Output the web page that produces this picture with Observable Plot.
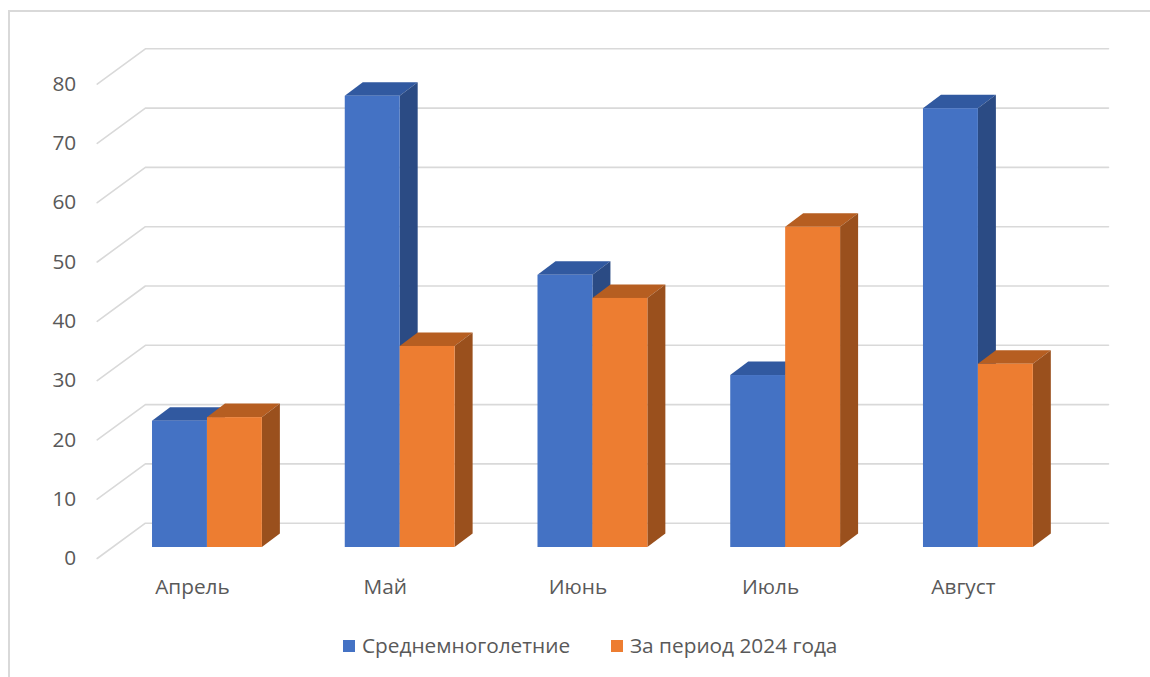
<!DOCTYPE html>
<html><head><meta charset="utf-8">
<script src="https://cdn.jsdelivr.net/npm/d3@7"></script>
<script src="https://cdn.jsdelivr.net/npm/@observablehq/plot@0.6"></script>
<style>
body{margin:0;width:1150px;height:677px;overflow:hidden;background:#fff;font-family:"Open Sans",sans-serif;position:relative}
#chart{position:absolute;left:0;top:0}
#frame{position:absolute;left:8px;top:10px;width:1200px;height:720px;border:2px solid #d9d9d9;box-sizing:border-box;pointer-events:none}
#legend{position:absolute;top:631px;left:0;width:1150px;height:28px;font-size:20.8px;color:#595959;line-height:28px}
#legend .item{position:absolute;top:0;white-space:nowrap}
#legend .sw{display:inline-block;width:12px;height:12px;margin-right:7px;vertical-align:middle;position:relative;top:-1px}
</style></head><body>
<div id="chart"></div>
<div id="legend"></div>
<div id="frame"></div>
<script>
const months = ["Апрель", "Май", "Июнь", "Июль", "Август"];
const seriesNames = ["Среднемноголетние", "За период 2024 года"];
const avgValues = [21.3, 76.1, 45.9, 29.0, 74.0];
const values2024 = [21.9, 33.9, 42.0, 54.0, 30.9];
const yTicks = [0, 10, 20, 30, 40, 50, 60, 70, 80];
const seriesColors = [
  {front: "#4472C4", top: "#3159A0", side: "#2B4B84"},
  {front: "#ED7D31", top: "#B65E21", side: "#9A501D"}
];

// 3D geometry (in data units)
const bw = 0.285;     // bar width
const ddx = 0.0934;   // bar depth, horizontal
const ddy = 2.28;     // bar depth, vertical
const xLeft = -0.572, xWall = -0.322, xRight = 4.675;
const yFront = -1.855, yWall = 4.1;

const seriesVals = [avgValues, values2024];

function buildFaces(j) {
  const vals = seriesVals[j];
  const fronts = [], tops = [], sides = [];
  vals.forEach((v, i) => {
    const x1 = i + (j === 0 ? -bw : 0), x2 = x1 + bw;
    fronts.push({x1, x2, y1: 0, y2: v});
    const id = months[i];
    tops.push({id, x: x1, y1: v, y2: v});
    tops.push({id, x: x1 + ddx, y1: v, y2: v + ddy});
    tops.push({id, x: x2, y1: v, y2: v + ddy});
    tops.push({id, x: x2 + ddx, y1: v + ddy, y2: v + ddy});
    sides.push({id, x: x2, y1: 0, y2: v});
    sides.push({id, x: x2 + ddx, y1: ddy, y2: v + ddy});
  });
  return {fronts, tops, sides};
}

const grid = [];
yTicks.forEach(t => {
  grid.push({t, x: xLeft, y: t + yFront});
  grid.push({t, x: xWall, y: t + yWall});
  grid.push({t, x: xRight, y: t + yWall});
});

const marks = [
  Plot.line(grid, {x: "x", y: "y", z: "t", stroke: "#d9d9d9", strokeWidth: 1.6})
];
[0, 1].forEach(j => {
  const f = buildFaces(j);
  const c = seriesColors[j];
  marks.push(Plot.areaY(f.tops, {x: "x", y1: "y1", y2: "y2", z: "id", fill: c.top, curve: "linear"}));
  marks.push(Plot.areaY(f.sides, {x: "x", y1: "y1", y2: "y2", z: "id", fill: c.side, curve: "linear"}));
  marks.push(Plot.rect(f.fronts, {x1: "x1", x2: "x2", y1: "y1", y2: "y2", fill: c.front}));
});
marks.push(Plot.text(yTicks, {x: () => xLeft, y: d => d + yFront, text: d => String(d), textAnchor: "end", dx: -21, dy: 0, fill: "#595959", fontSize: 20.8}));
marks.push(Plot.text(months, {x: (d, i) => i, y: () => 0, text: d => d, dx: -15, dy: 40, fill: "#595959", fontSize: 20.8}));

const chart = Plot.plot({
  width: 1150,
  height: 610,
  x: {type: "linear", domain: [xLeft, xRight], range: [96.7, 1108], axis: null},
  y: {type: "linear", domain: [-2, 85], range: [558.86, 42.95], axis: null},
  style: {fontFamily: "'Open Sans', sans-serif", background: "transparent", overflow: "visible"},
  marks
});
document.getElementById("chart").appendChild(chart);

const legend = document.getElementById("legend");
const legendLefts = [343, 611];
seriesNames.forEach((name, j) => {
  const item = document.createElement("div");
  item.className = "item";
  item.style.left = legendLefts[j] + "px";
  const sw = document.createElement("span");
  sw.className = "sw";
  sw.style.background = seriesColors[j].front;
  item.appendChild(sw);
  item.appendChild(document.createTextNode(name));
  legend.appendChild(item);
});
</script>
</body></html>
